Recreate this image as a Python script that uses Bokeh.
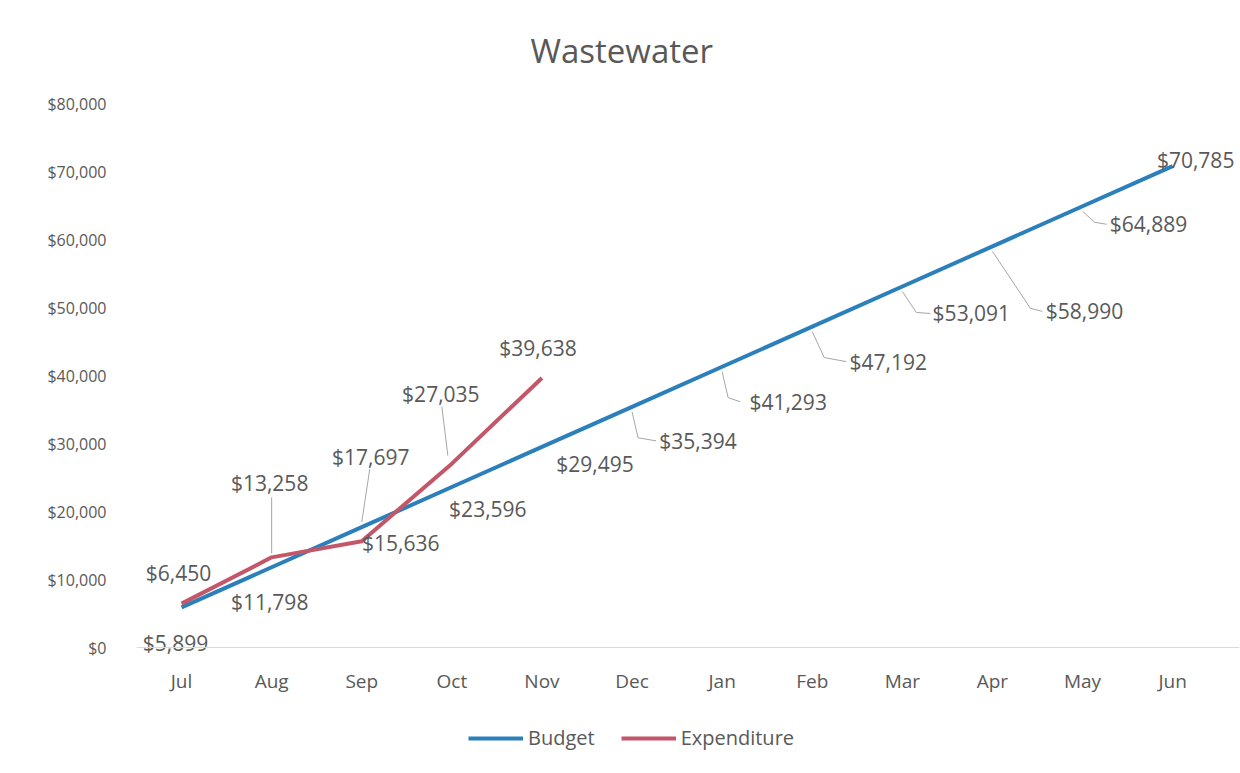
from bokeh.plotting import figure
from bokeh.layouts import column
from bokeh.models import (ColumnDataSource, Range1d, FixedTicker, NumeralTickFormatter,
                          Span, Legend, LegendItem)
from bokeh.core.properties import value
from bokeh.embed import file_html
from bokeh.resources import INLINE

# ---------------- data ----------------
months = ["Jul", "Aug", "Sep", "Oct", "Nov", "Dec", "Jan", "Feb", "Mar", "Apr", "May", "Jun"]
budget = [5899, 11798, 17697, 23596, 29495, 35394, 41293, 47192, 53091, 58990, 64889, 70785]
expenditure = [6450, 13258, 15636, 27035, 39638]
y_ticks = [0, 10000, 20000, 30000, 40000, 50000, 60000, 70000, 80000]

# ---------------- styles ----------------
FONT = "Open Sans"
GREY = "#595959"
BLUE = "#2b80bb"
RED = "#c4566a"
LEADER = "#a6a6a6"
PX_X = 90.1      # pixels per category
PX_Y = 0.0068    # pixels per dollar

# label offsets in screen pixels (dx right, dy down)
b_off = [(-6, 36), (-2, 35), (9, -70), (36, 22), (53, 17), (66, 34), (66, 35),
         (76, 35), (69, 27), (92, 65), (66, 18), (23, -6)]
e_off = [(-3, -31), (-2, -74), (39, 2), (-11, -70), (-4, -30)]

# leader polylines (pixel offsets from point), None = no leader
b_lead = [None, None, [(0, -5), (8, -58)], None, None,
          [(0, 5), (6, 31), (24, 34)], [(0, 5), (6, 31), (18, 35)],
          [(0, 5), (12, 31), (34, 35)], [(0, 5), (14, 26), (28, 27)],
          [(0, 5), (38, 62), (50, 65)], [(0, 5), (12, 16), (24, 18)], None]
e_lead = [None, [(0, -4), (0, -60)], None, [(-4, -8), (-10, -57)], None]

W = 1240
H_MAIN, H_LEG = 715, 58
TOP, BOTTOM, LEFT = 76, 56, 136
frame_h = H_MAIN - TOP - BOTTOM
y0 = -12 / PX_Y
p = figure(width=W, height=H_MAIN, output_backend="svg", toolbar_location=None,
           x_range=Range1d(-0.5, -0.5 + (W - 1 - LEFT) / PX_X),
           y_range=Range1d(y0, y0 + frame_h / PX_Y),
           min_border_left=LEFT, min_border_right=1, min_border_top=TOP,
           min_border_bottom=BOTTOM, outline_line_color=None,
           background_fill_color="white", border_fill_color="white")

p.xgrid.visible = False
p.ygrid.visible = False

# title
p.title.text = "Wastewater"
p.title.text_font = FONT
p.title.text_font_size = "33px"
p.title.text_font_style = "normal"
p.title.text_color = GREY
p.title.align = "left"
p.title.offset = 394
p.title.standoff = 7

# axes
p.xaxis.ticker = FixedTicker(ticks=list(range(len(months))))
p.xaxis.major_label_overrides = {i: m for i, m in enumerate(months)}
p.xaxis.axis_line_color = None
p.xaxis.major_tick_line_color = None
p.xaxis.minor_tick_line_color = None
p.xaxis.major_label_standoff = 2
p.xaxis.major_label_text_font_size = "19px"
p.yaxis.ticker = FixedTicker(ticks=y_ticks)
p.yaxis.formatter = NumeralTickFormatter(format="$0,0")
p.yaxis.axis_line_color = None
p.yaxis.major_tick_line_color = None
p.yaxis.minor_tick_line_color = None
p.yaxis.major_label_standoff = 24
p.yaxis.major_label_text_font_size = "16px"
for ax in (p.xaxis, p.yaxis):
    ax.major_label_text_font = FONT
    ax.major_label_text_color = GREY

# horizontal axis line at $0
p.add_layout(Span(location=0, dimension="width", line_color="#d9d9d9", line_width=1))

# leader lines
def leaders(xs, vals, leads):
    lx, ly = [], []
    for x, v, ld in zip(xs, vals, leads):
        if ld is None:
            continue
        lx.append([x + dx / PX_X for dx, dy in ld])
        ly.append([v - dy / PX_Y for dx, dy in ld])
    return lx, ly

bx = list(range(len(budget)))
ex = list(range(len(expenditure)))
lx, ly = leaders(bx, budget, b_lead)
lx2, ly2 = leaders(ex, expenditure, e_lead)
p.multi_line(lx + lx2, ly + ly2, line_color=LEADER, line_width=1)

# lines
p.line(bx, budget, line_color=BLUE, line_width=4)
p.line(ex, expenditure, line_color=RED, line_width=4)

# data labels
def fmt(v):
    return "${:,}".format(v)

bsrc = ColumnDataSource(dict(x=bx, y=budget, t=[fmt(v) for v in budget],
                             dx=[o[0] for o in b_off], dy=[o[1] for o in b_off]))
esrc = ColumnDataSource(dict(x=ex, y=expenditure, t=[fmt(v) for v in expenditure],
                             dx=[o[0] for o in e_off], dy=[o[1] for o in e_off]))
for src in (bsrc, esrc):
    p.text(x="x", y="y", text="t", source=src, x_offset="dx", y_offset="dy",
           text_align="center", text_baseline="middle",
           text_font=value(FONT), text_font_size="21px", text_color=GREY)

# legend in its own strip (glyph data lie outside the strip's ranges)
lg = figure(width=W, height=H_LEG, output_backend="svg", toolbar_location=None,
            x_range=Range1d(0, 1), y_range=Range1d(0, 1),
            min_border=0, outline_line_color=None, border_fill_color="white")
lg.axis.visible = False
lg.grid.visible = False
rb = lg.line([5, 6], [5, 6], line_color=BLUE, line_width=4)
re = lg.line([5, 6], [5, 6], line_color=RED, line_width=4)
legend = Legend(items=[LegendItem(label="Budget", renderers=[rb]),
                       LegendItem(label="Expenditure", renderers=[re])],
                orientation="horizontal", location=(332, 22),
                label_text_font=FONT, label_text_font_size="20px",
                label_text_color=GREY, glyph_width=55, label_standoff=5,
                spacing=26, padding=5, margin=0,
                border_line_color=None, background_fill_alpha=0)
lg.add_layout(legend)

open("out.html", "w").write(file_html(column(p, lg, spacing=0), INLINE))
